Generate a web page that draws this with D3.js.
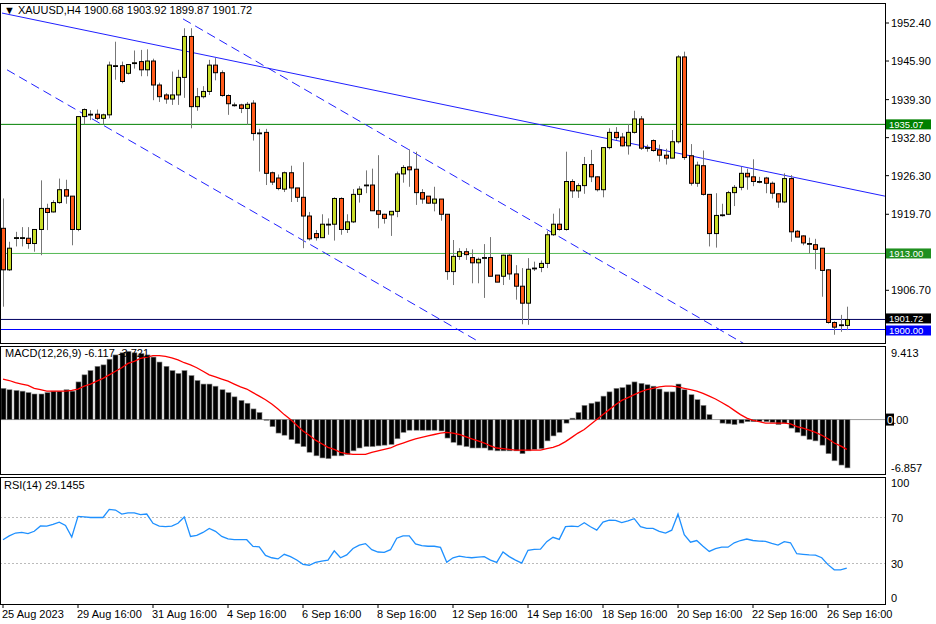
<!DOCTYPE html>
<html><head><meta charset="utf-8">
<script src="https://cdn.jsdelivr.net/npm/d3@7"></script>
<style>body{margin:0;background:#fff}text{font-family:"Liberation Sans",Arial,sans-serif;font-size:11px}</style>
</head><body><div id="chart"></div>
<script>
// XAUUSD H4 candles: [open, high, low, close]
var candles = [
[1917.3,1922.4,1903.9,1910.2],[1910.2,1915,1910,1913.9],[1915.7,1916.7,1914.2,1915.7],[1915.7,1917.5,1914.2,1915.7],
[1915.6,1917.5,1913.8,1914.7],[1914.7,1917.1,1913.3,1917.1],[1917.1,1925.5,1912.7,1920.7],[1920.7,1921.5,1917,1920.0],
[1920.1,1922.1,1920,1921.7],[1921.7,1925.8,1921.5,1923.9],[1923.9,1925.6,1921.5,1922.8],[1922.8,1922.8,1914.4,1917.1],
[1917.1,1936.4,1916.8,1936.4],[1936.4,1937.8,1935.1,1937.6],[1936.8,1937.5,1935.8,1936.8],[1936.8,1937.6,1935.8,1936.1],
[1936.1,1936.9,1935.1,1936.7],[1936.7,1945.8,1936.1,1945.2],[1945.1,1949.2,1942.7,1945.1],[1945.1,1945.8,1942.1,1942.4],
[1943.8,1945.3,1943.6,1945.3],[1945.6,1947.7,1944.6,1945.6],[1945.8,1947.8,1943.3,1944.4],[1944.4,1947.9,1943.3,1945.9],
[1945.9,1946.3,1939.2,1941.8],[1941.8,1942.2,1938.9,1939.8],[1940.1,1940.4,1938.6,1939.4],[1939.4,1944.1,1938.4,1940.1],
[1940.1,1944.4,1938.4,1943.1],[1943.1,1951.5,1939.6,1950.1],[1950.1,1951.5,1934.4,1938.1],[1938.1,1941.3,1937.4,1939.8],
[1939.8,1941.6,1939.5,1940.7],[1940.7,1946.1,1940.1,1945.2],[1945.2,1946.4,1942.6,1943.9],[1943.9,1944.3,1939.8,1940.0],
[1940,1940.2,1936.7,1938.6],[1938.4,1938.8,1938.1,1938.4],[1938.4,1938.6,1937.0,1937.8],[1937.8,1938.9,1935,1938.5],
[1938.7,1939.2,1932.3,1933.5],[1933.6,1934.3,1927,1933.6],[1933.7,1934.3,1924.7,1926.7],[1926.8,1927.0,1924.7,1925.2],
[1925.9,1926.5,1923.8,1924.1],[1924,1927.0,1923.5,1926.8],[1926.8,1928,1921.8,1924.2],[1924.2,1924.2,1921.8,1922.6],
[1922.6,1928.6,1913.9,1919.4],[1919.4,1920.1,1915.2,1915.5],[1916.4,1917,1915.2,1915.7],[1915.7,1919.7,1915.7,1918.0],
[1918,1919,1916.2,1918],[1918,1922.6,1915.2,1922.4],[1922.4,1922.6,1916.2,1917.1],[1917.1,1919.7,1916.5,1918.4],
[1918.4,1924.0,1918.2,1923.1],[1923.1,1924.5,1921.7,1924.0],[1924.7,1927.2,1923.3,1924.7],[1924.7,1927.5,1920.3,1920.3],
[1920.3,1929.8,1917.3,1919.7],[1919.7,1919.8,1918.1,1919.0],[1919.6,1919.9,1916,1920.2],[1920.2,1927.0,1919.2,1926.6],
[1926.6,1928.1,1925.1,1927.7],[1927.8,1930.8,1924.4,1927.3],[1927.4,1930.4,1921.3,1923.4],[1923.4,1924.0,1921.5,1922.3],
[1922.8,1922.8,1921.5,1921.6],[1921.6,1924.4,1920.2,1922.3],[1922.3,1922.3,1918.6,1919.7],[1919.7,1919.7,1908.5,1909.9],
[1909.9,1915.3,1907.6,1912.5],[1912.5,1913.9,1911.9,1913.3],[1913.3,1913.9,1911.9,1912.8],[1912.3,1913.7,1907.9,1911.4],
[1911.4,1912.3,1907.9,1912.0],[1912.3,1914.6,1905.4,1912.3],[1912.3,1915.8,1909.1,1909.1],[1909.3,1909.3,1908.1,1908.1],
[1909.1,1912.8,1907.6,1912.7],[1912.7,1913.0,1908.5,1909.5],[1909.5,1911.0,1905.1,1907.4],[1907.4,1910.5,1900.9,1904.5],
[1904.5,1912.2,1900.8,1910.3],[1910.5,1911.6,1910.0,1910.5],[1910.6,1911.8,1909.8,1911.3],[1911.3,1916.8,1910.5,1916.2],
[1916.2,1919.8,1916.0,1918.0],[1918.0,1920.7,1916.9,1917.1],[1917.1,1930.4,1916.9,1925.3],[1925.3,1925.7,1922.5,1923.7],
[1923.7,1925.0,1922.5,1924.6],[1924.6,1929.5,1923.2,1928.2],[1928.2,1930.7,1925.2,1926.1],[1926.1,1926.2,1923.6,1923.9],
[1923.9,1931.2,1922.6,1931.1],[1931.1,1934.4,1930.8,1933.7],[1933.7,1934.6,1932.4,1932.8],[1932.9,1933.6,1931.3,1931.4],
[1931.4,1935.1,1929.9,1933.7],[1933.7,1937.4,1933.5,1936.0],[1936.0,1936.5,1930.7,1931.0],[1931.1,1931.6,1930.4,1931.1],
[1932.3,1932.5,1930.4,1930.6],[1930.7,1931.6,1928.7,1929.8],[1929.8,1930.9,1928.2,1929.3],[1929.3,1934.1,1929.3,1932.1],
[1932.1,1946.9,1931.8,1946.6],[1946.6,1947.5,1929.0,1929.4],[1929.7,1931.7,1924.6,1925.0],[1925.0,1928.7,1924.4,1928.1],
[1928.0,1930.6,1922.9,1923.1],[1923.1,1923.1,1914.2,1916.4],[1916.4,1923.3,1914.0,1919.5],[1919.6,1921.5,1919.3,1919.6],
[1919.7,1923.7,1919.6,1923.4],[1923.4,1924.7,1921.1,1924.3],[1924.3,1927.8,1923.8,1926.7],[1926.7,1927.5,1923.9,1926.1],
[1926.1,1929.1,1924.5,1925.3],[1925.3,1926.1,1925.0,1925.3],[1925.9,1926.1,1923.3,1925.0],[1925.0,1925.3,1922.4,1923.3],
[1923.2,1923.3,1920.8,1921.8],[1921.8,1926.7,1921.6,1925.8],[1925.8,1926.4,1915.0,1916.7],[1916.8,1917.0,1916.2,1915.8],
[1916.0,1916.1,1914.4,1914.8],[1914.7,1915.7,1913.0,1914.7],[1914.5,1915.5,1910.3,1913.7],[1913.9,1913.9,1905.6,1910.1],
[1910.2,1910.3,1901.0,1901.2],[1901.2,1901.4,1899.1,1900.4],[1900.8,1902.5,1899.6,1900.8],[1900.7,1903.9,1899.9,1901.7]
];
var macdHist = [4.4,4.2,4.1,4.0,3.8,3.6,3.6,3.8,4.0,4.0,4.2,4.0,5.3,6.3,6.9,7.5,7.7,8.5,9.1,9.4,
9.6,9.4,9.3,9.1,8.8,8.1,7.5,6.9,6.5,6.9,6.2,5.5,5.0,5.0,4.7,4.2,3.8,3.2,2.7,2.3,
1.5,1.0,-0.1,-1.0,-1.9,-2.2,-2.8,-3.4,-3.8,-4.6,-5.1,-5.4,-5.5,-5.1,-5.1,-4.9,-4.4,-4.0,-3.8,-3.8,
-3.7,-3.6,-3.5,-2.7,-1.8,-1.5,-1.5,-1.5,-1.5,
-1.5,-1.6,-2.6,-3.2,-3.6,-3.8,-4.0,-4.0,-4.0,-4.3,-4.4,-4.4,-4.4,-4.4,-4.8,-4.4,-4.2,-4.1,-3.0,-2.3,
-1.8,-0.5,0.2,1.0,2.0,2.3,2.5,3.3,3.9,4.4,4.5,4.9,5.3,5.1,4.9,4.7,4.3,3.9,3.9,5.0,
4.2,3.5,2.8,2.0,0.7,0,-0.5,-0.6,-0.7,-0.5,-0.3,-0.3,-0.3,-0.3,-0.4,-0.7,-0.5,-1.2,-1.8,-2.3,
-2.8,-3.0,-3.6,-4.8,-5.8,-6.4,-6.8];
var macdSignal = [5.7,5.5,5.2,5.0,4.8,4.4,4.2,4.0,4.0,4.0,4.0,4.1,4.3,4.7,5.0,5.4,5.8,6.3,6.8,7.3,
7.9,8.2,8.6,8.8,9.0,9.0,8.9,8.7,8.4,8.0,7.7,7.3,6.8,6.3,6.0,5.7,5.4,5.0,4.6,4.3,
3.8,3.3,2.8,2.2,1.5,0.7,0,-0.8,-1.6,-2.2,-2.9,-3.4,-3.9,-4.2,-4.6,-4.8,-4.9,-4.9,-4.9,-4.6,
-4.4,-4.2,-4.0,-3.6,-3.3,-3.0,-2.7,-2.5,-2.3,-2.1,-1.9,-1.8,-1.9,-2.1,-2.4,-2.7,-3.0,-3.3,-3.7,-4.0,
-4.1,-4.2,-4.3,-4.3,-4.3,-4.3,-4.3,-4.1,-3.9,-3.6,-3.1,-2.5,-1.9,-1.4,-0.7,0,0.7,1.4,2.1,2.7,
3.1,3.5,3.9,4.2,4.4,4.6,4.7,4.7,4.6,4.4,4.2,4.0,3.7,3.3,2.9,2.4,1.9,1.3,0.7,0.2,
-0.1,-0.3,-0.5,-0.5,-0.5,-0.5,-0.6,-1.0,-1.2,-1.5,-1.8,-2.2,-2.7,-3.3,-3.7,-4.2];
var rsi = [50.7,54,56.5,57,56,58,62.6,62.5,64,66,63,53,71,70.5,70,70,70,77,76.5,73,
74,74,72.5,73,65,62.5,62,62.5,65,70.5,53.5,54.5,57,60.5,58,53.5,51.5,50.7,50.7,50.7,
44.9,44.5,37,35,34,38,36,33,29.3,28.5,31,32,33,41,35,37.5,43,46,47.3,42,
40,39.7,42,52,54,54,47,45.5,45,45,44,31,35,36.4,35.5,35,35.5,36,33,31,
40,36,33,30.4,41.5,42.3,42.5,49,52.8,51,62,62.5,62,65.5,62,59,66,67.7,67.5,65.5,
67,69,62,60.5,60.5,58,56.4,59,73,55,48.5,50,45,40.5,43,44.2,44.2,48,50,51.3,
50,49.5,49.3,47.5,46,49,48,38.5,38,37.5,37.3,35,29,24.5,24.5,26];
var priceTicks = [1952.40,1945.90,1939.30,1932.80,1926.30,1919.70,1906.70];
var levels = [{p:1935.07,c:"#008000",bg:"#008000",dy:0},{p:1913.00,c:"#55b855",bg:"#1f8f1f",dy:0},
              {p:1901.72,c:"#000060",bg:"#000000",dy:-1},{p:1900.00,c:"#0000ff",bg:"#0000ff",dy:1}];
var trendSolid = [[-0.16,1954.1],[141.1,1922.8]];
var trendDash = [[[0.64,1944.4],[76,1898.0]],[[28.8,1953.1],[119,1897.3]]];
var timeLabels = ["25 Aug 2023","29 Aug 16:00","31 Aug 16:00","4 Sep 16:00","6 Sep 16:00","8 Sep 16:00",
                  "12 Sep 16:00","14 Sep 16:00","18 Sep 16:00","20 Sep 16:00","22 Sep 16:00","26 Sep 16:00"];

var W = 936, H = 624, R = 885;
var svg = d3.select("#chart").append("svg").attr("width", W).attr("height", H);
var x = d3.scaleLinear().domain([0, 135]).range([3, 846.75]);
var y = d3.scaleLinear().domain([1900, 1952.4]).range([329.5, 23]);
var ym = d3.scaleLinear().domain([-6.857, 9.413]).range([468.3, 352.7]);
var yr = d3.scaleLinear().domain([0, 100]).range([598, 483]);

// clip paths
function clip(id, y0, y1) {
    svg.append("clipPath").attr("id", id).append("rect").attr("x", 0).attr("y", y0).attr("width", R).attr("height", y1 - y0);
}
clip("cMain", 4, 343); clip("cMacd", 347, 474); clip("cRsi", 478, 604);

var main = svg.append("g").attr("clip-path", "url(#cMain)");

levels.forEach(function(l) {
    main.append("line").attr("x1", 0).attr("x2", R).attr("y1", y(l.p)).attr("y2", y(l.p))
        .attr("stroke", l.c).attr("stroke-width", 1);
});

main.append("line").attr("x1", x(trendSolid[0][0])).attr("y1", y(trendSolid[0][1]))
    .attr("x2", x(trendSolid[1][0])).attr("y2", y(trendSolid[1][1]))
    .attr("stroke", "#2020ff").attr("stroke-width", 1);
trendDash.forEach(function(t) {
    main.append("line").attr("x1", x(t[0][0])).attr("y1", y(t[0][1]))
        .attr("x2", x(t[1][0])).attr("y2", y(t[1][1]))
        .attr("stroke", "#2020ff").attr("stroke-dasharray", "9,5").attr("stroke-width", 1);
});

var cg = main.selectAll("g.c").data(candles).enter().append("g");
cg.append("line")
    .attr("x1", function(d, i) { return Math.round(x(i)) + 0.5; })
    .attr("x2", function(d, i) { return Math.round(x(i)) + 0.5; })
    .attr("y1", function(d) { return y(d[1]); })
    .attr("y2", function(d) { return y(d[2]); })
    .attr("stroke", "#777");
cg.append("rect")
    .attr("x", function(d, i) { return Math.round(x(i)) - 1.5; })
    .attr("y", function(d) { return y(Math.max(d[0], d[3])); })
    .attr("width", 4)
    .attr("height", function(d) { return Math.max(0.8, Math.abs(y(d[0]) - y(d[3]))); })
    .attr("fill", function(d) { return d[3] >= d[0] ? "#c8dc28" : "#ff5a1a"; })
    .attr("stroke", "#000").attr("stroke-width", 1);

// MACD
var mg = svg.append("g").attr("clip-path", "url(#cMacd)");
mg.append("line").attr("x1", 0).attr("x2", R).attr("y1", ym(0)).attr("y2", ym(0)).attr("stroke", "#999");
mg.selectAll("rect").data(macdHist).enter().append("rect")
    .attr("x", function(d, i) { return Math.round(x(i)) - 2; })
    .attr("y", function(d) { return Math.min(ym(d), ym(0)); })
    .attr("width", 5)
    .attr("height", function(d) { return Math.abs(ym(d) - ym(0)); })
    .attr("fill", "#000").attr("stroke", "#888").attr("stroke-width", 0.6);
mg.append("path").datum(macdSignal)
    .attr("d", d3.line().x(function(d, i) { return x(i); }).y(function(d) { return ym(d); }))
    .attr("fill", "none").attr("stroke", "#ff0000").attr("stroke-width", 1.3);

// RSI
var rg = svg.append("g").attr("clip-path", "url(#cRsi)");
[70, 30].forEach(function(v) {
    rg.append("line").attr("x1", 0).attr("x2", R).attr("y1", yr(v)).attr("y2", yr(v))
        .attr("stroke", "#bbb").attr("stroke-dasharray", "2,2");
});
rg.append("path").datum(rsi)
    .attr("d", d3.line().x(function(d, i) { return x(i); }).y(function(d) { return yr(d); }))
    .attr("fill", "none").attr("stroke", "#1e90ff").attr("stroke-width", 1.3);

// frames
[[3, 343], [346, 474], [477, 604]].forEach(function(f) {
    svg.append("rect").attr("x", 0.5).attr("y", f[0] + 0.5).attr("width", R).attr("height", f[1] - f[0])
        .attr("fill", "none").attr("stroke", "#000");
});

// price axis
var axg = svg.append("g");
priceTicks.forEach(function(p) {
    axg.append("line").attr("x1", R).attr("x2", R + 4).attr("y1", y(p)).attr("y2", y(p)).attr("stroke", "#000");
    axg.append("text").attr("x", R + 6).attr("y", y(p) + 4).text(p.toFixed(2));
});
levels.forEach(function(l) {
    var yy = y(l.p) + l.dy;
    axg.append("rect").attr("x", R + 1).attr("y", yy - 5).attr("width", 45).attr("height", 10).attr("fill", l.bg);
    axg.append("text").attr("x", R + 4).attr("y", yy + 3.5).attr("fill", "#fff").style("font-size", "9.5px").text(l.p.toFixed(2));
});

// MACD axis
[[9.413, "9.413"], [-6.857, "-6.857"]].forEach(function(t) {
    axg.append("text").attr("x", R + 6).attr("y", ym(t[0]) + 4).text(t[1]);
});
axg.append("rect").attr("x", R + 1).attr("y", ym(0) - 6).attr("width", 8).attr("height", 12).attr("fill", "#000");
var zt = axg.append("text").attr("x", R + 2).attr("y", ym(0) + 4);
zt.append("tspan").attr("fill", "#fff").text("0");
zt.append("tspan").attr("fill", "#000").text(".00");

// RSI axis
[100, 70, 30, 0].forEach(function(v) {
    axg.append("text").attr("x", R + 6).attr("y", yr(v) + 4).text(v);
});

// time axis
timeLabels.forEach(function(t, k) {
    var xx = Math.round(x(k * 12));
    axg.append("line").attr("x1", xx).attr("x2", xx).attr("y1", 604).attr("y2", 608).attr("stroke", "#000");
    axg.append("text").attr("x", xx - 1).attr("y", 618).text(t);
});

// titles
svg.append("text").attr("x", 4).attr("y", 14).text("\u25BC XAUUSD,H4  1900.68 1903.92 1899.87 1901.72");
svg.append("text").attr("x", 5).attr("y", 357).text("MACD(12,26,9) -6.117 -3.721");
svg.append("text").attr("x", 4).attr("y", 489).text("RSI(14) 29.1455");
</script></body></html>
